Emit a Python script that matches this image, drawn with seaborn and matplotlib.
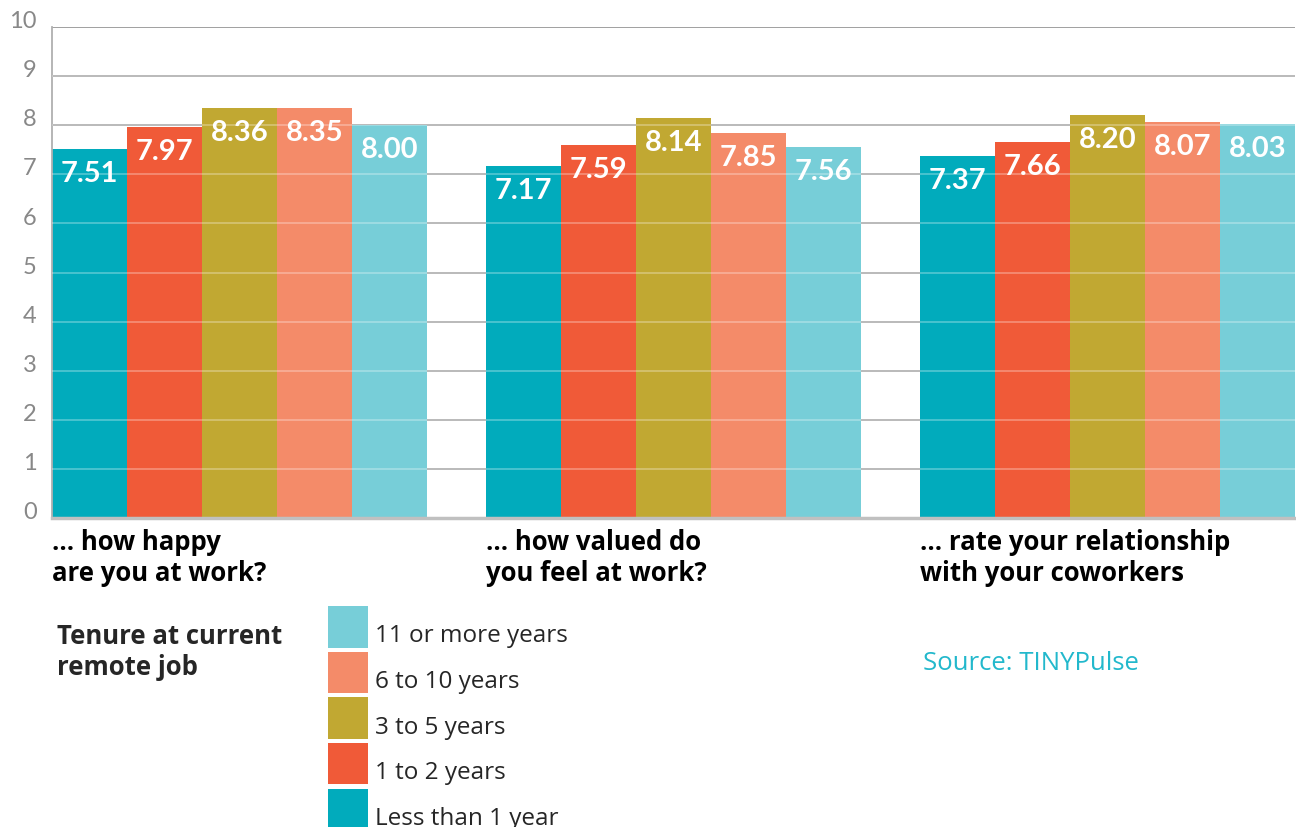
import numpy as np
import pandas as pd
import seaborn as sns
import matplotlib
matplotlib.use('Agg')
import matplotlib.pyplot as plt
from matplotlib.transforms import ScaledTranslation

# data
questions = ['... how happy\nare you at work?',
             '... how valued do\nyou feel at work?',
             '... rate your relationship\nwith your coworkers']
tenure = ['Less than 1 year', '1 to 2 years', '3 to 5 years', '6 to 10 years', '11 or more years']
colors = ['#01ABBC', '#F05A38', '#C1A832', '#F48B69', '#77CED8']

less_than_1 = [7.51, 7.17, 7.37]
one_to_2 = [7.97, 7.59, 7.66]
three_to_5 = [8.36, 8.14, 8.20]
six_to_10 = [8.35, 7.85, 8.07]
eleven_plus = [8.00, 7.56, 8.03]

series = [less_than_1, one_to_2, three_to_5, six_to_10, eleven_plus]
rows = []
for t, vals in zip(tenure, series):
    for q, v in zip(questions, vals):
        rows.append({'question': q, 'tenure': t, 'score': v})
df = pd.DataFrame(rows)

sns.set_style('white')
plt.rcParams['font.family'] = ['Lato', 'DejaVu Sans']
bold_font = ['Open Sans', 'DejaVu Sans']

fig = plt.figure(figsize=(12.96, 8.28), dpi=100)
ax = fig.add_axes([52 / 1296, 1 - 519 / 828, 1243 / 1296, 491 / 828])

group_width = 0.864
sns.barplot(data=df, x='question', y='score', hue='tenure', order=questions,
            hue_order=tenure, palette=colors, saturation=1, width=group_width,
            gap=0, errorbar=None, legend=False, linewidth=0, ax=ax)

ax.set_xlim(-group_width / 2, len(questions) - 1 + group_width / 2)
ax.set_ylim(0, 10)
ax.set_yticks(range(11))
ax.yaxis.grid(True, color='#999999', lw=1.3)
ax.set_axisbelow(True)
# faint gridlines showing through the bars
for y in range(1, 10):
    ax.axhline(y, color='white', alpha=0.3, lw=1.3, zorder=3)

for s in ['top', 'right']:
    ax.spines[s].set_visible(False)
ax.spines['left'].set_color('#b0b0b0')
ax.spines['left'].set_linewidth(1.3)
ax.spines['bottom'].set_color('#c0c0c0')
ax.spines['bottom'].set_linewidth(2.5)

ax.set_xlabel('')
ax.set_ylabel('')
ax.tick_params(axis='x', length=0, labelbottom=False)
ax.tick_params(axis='y', length=0, pad=11, labelsize=17, labelcolor='#888888')
for lab in ax.get_yticklabels():
    lab.set_transform(lab.get_transform() + ScaledTranslation(0, 6 / 72, fig.dpi_scale_trans))

# value labels inside bar tops
for cont in ax.containers:
    texts = ax.bar_label(cont, fmt='%.2f', padding=-8, color='white',
                         fontsize=21, fontweight='bold')
    for t in texts:
        t.set_va('top')

# question labels under each group, left aligned
for i, q in enumerate(questions):
    ax.annotate(q, xy=(i - group_width / 2, 0), xycoords=('data', 'axes fraction'),
                xytext=(0, -7), textcoords='offset points', ha='left', va='top',
                fontsize=18.5, fontweight='bold', color='black', linespacing=1.2,
                family=bold_font)

leg = fig.legend(handles=ax.containers[::-1], labels=tenure[::-1], loc='upper left',
                 bbox_to_anchor=(328 / 1296, 1 - 607 / 828), frameon=False,
                 prop={'family': bold_font, 'size': 17.5},
                 handlelength=1.65, handleheight=2.25, labelspacing=0.17,
                 handletextpad=0.28, borderpad=0, borderaxespad=0)
# labels sit a little low next to their swatches in the original
for t in leg.get_texts():
    t.set_transform(t.get_transform() + ScaledTranslation(0, -5 / 72, fig.dpi_scale_trans))

fig.text(57 / 1296, 1 - 623 / 828, 'Tenure at current\nremote job', fontsize=18.5,
         fontweight='bold', va='top', ha='left', linespacing=1.2, family=bold_font)
fig.text(923 / 1296, 1 - 664 / 828, 'Source: TINYPulse', fontsize=18.5,
         color='#22B8CC', va='center', ha='left', family=bold_font)

fig.savefig('out.png', dpi=100)
